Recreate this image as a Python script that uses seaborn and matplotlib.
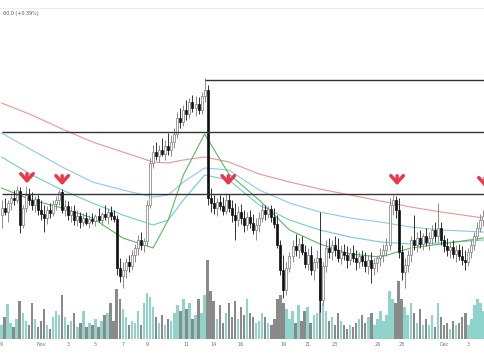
import numpy as np
import pandas as pd
import matplotlib
matplotlib.use("Agg")
import matplotlib.pyplot as plt
import seaborn as sns

# --- candle data (one entry per bar, oldest first) ---
opens = [145, 152, 148, 157, 162, 160, 169, 135, 152, 165,
         160, 155, 161, 150, 146, 142, 150, 147, 156, 160,
         168, 150, 154, 145, 149, 140, 144, 138, 142, 137,
         141, 139, 144, 140, 146, 143, 148, 144, 141, 92,
         84, 90, 98, 94, 105, 112, 120, 115, 119, 155,
         197, 208, 204, 210, 206, 214, 210, 218, 226, 242,
         238, 250, 246, 258, 252, 256, 250, 264, 270, 162,
         157, 152, 158, 154, 149, 160, 152, 145, 140, 148,
         142, 135, 143, 137, 130, 135, 142, 150, 146, 151,
         143, 136, 115, 90, 70, 92, 104, 114, 110, 116,
         108, 96, 105, 90, 98, 102, 60, 94, 112, 108,
         115, 110, 102, 108, 105, 100, 107, 102, 98, 104,
         99, 94, 100, 92, 97, 102, 105, 110, 115, 155,
         160, 150, 108, 88, 95, 105, 120, 115, 122, 116,
         124, 118, 122, 130, 124, 132, 120, 114, 110, 113,
         106, 110, 104, 100, 98, 108, 115, 124, 132, 140]
highs = [160, 162, 160, 165, 170, 174, 173, 155, 174, 172,
         168, 164, 165, 160, 155, 154, 157, 160, 164, 170,
         171, 160, 159, 154, 155, 150, 148, 147, 148, 145,
         147, 146, 152, 148, 155, 152, 154, 150, 145, 102,
         98, 102, 105, 110, 116, 125, 128, 122, 160, 202,
         215, 218, 215, 222, 220, 227, 225, 232, 248, 252,
         255, 260, 262, 265, 264, 263, 268, 282, 275, 172,
         165, 162, 165, 163, 167, 166, 160, 157, 154, 156,
         150, 148, 150, 146, 142, 148, 156, 155, 154, 155,
         152, 145, 120, 105, 98, 108, 120, 126, 122, 124,
         115, 112, 114, 102, 110, 148, 98, 120, 122, 120,
         124, 122, 115, 116, 114, 112, 115, 110, 108, 110,
         108, 105, 108, 102, 105, 112, 116, 122, 162, 165,
         164, 162, 115, 102, 110, 124, 145, 128, 130, 127,
         132, 128, 135, 138, 157, 138, 125, 122, 118, 120,
         115, 116, 114, 110, 112, 120, 128, 138, 146, 150]
lows = [132, 145, 138, 150, 155, 157, 127, 132, 148, 155,
        150, 148, 145, 140, 128, 136, 142, 144, 150, 155,
        147, 144, 140, 138, 135, 134, 132, 134, 135, 132,
        136, 134, 138, 135, 140, 136, 140, 138, 85, 78,
        72, 82, 88, 90, 98, 105, 110, 108, 114, 152,
        192, 200, 198, 204, 200, 205, 204, 212, 222, 232,
        234, 240, 242, 248, 244, 246, 246, 258, 155, 148,
        146, 144, 150, 145, 146, 148, 138, 120, 134, 136,
        128, 130, 132, 126, 120, 128, 138, 140, 142, 138,
        132, 112, 85, 62, 65, 88, 98, 104, 102, 105,
        92, 90, 85, 80, 92, 48, 55, 88, 102, 100,
        104, 98, 96, 100, 92, 95, 98, 90, 92, 94,
        88, 86, 77, 85, 88, 94, 98, 104, 110, 145,
        142, 102, 80, 72, 88, 98, 110, 108, 112, 110,
        114, 110, 116, 118, 118, 115, 108, 104, 102, 102,
        98, 100, 95, 90, 94, 102, 110, 120, 128, 134]
closes = [152, 148, 157, 162, 160, 170, 135, 152, 165, 160,
          155, 161, 150, 146, 142, 150, 147, 156, 160, 168,
          150, 154, 145, 149, 140, 144, 138, 142, 137, 141,
          139, 144, 140, 146, 143, 148, 144, 141, 92, 84,
          90, 98, 94, 105, 112, 120, 115, 119, 155, 197,
          208, 204, 210, 206, 214, 210, 218, 226, 242, 238,
          250, 246, 258, 252, 256, 250, 264, 270, 162, 157,
          152, 158, 154, 149, 160, 152, 145, 140, 148, 142,
          135, 143, 137, 130, 135, 142, 150, 146, 151, 143,
          136, 115, 90, 70, 92, 104, 114, 110, 116, 108,
          96, 105, 90, 98, 102, 60, 94, 112, 108, 115,
          110, 102, 108, 105, 100, 107, 102, 98, 104, 99,
          94, 100, 92, 97, 102, 105, 110, 115, 155, 160,
          150, 108, 88, 95, 105, 120, 115, 122, 116, 124,
          118, 122, 130, 124, 132, 120, 114, 110, 113, 106,
          110, 104, 100, 98, 108, 115, 124, 132, 140, 144]
volumes = [14, 22, 35, 16, 12, 20, 38, 26, 18, 14,
           36, 20, 12, 18, 30, 14, 10, 22, 28, 24,
           44, 22, 14, 18, 26, 12, 16, 28, 12, 16,
           14, 20, 12, 18, 24, 26, 36, 18, 50, 40,
           30, 22, 14, 18, 16, 28, 14, 36, 46, 42,
           32, 22, 16, 24, 14, 20, 18, 26, 34, 28,
           40, 30, 36, 20, 24, 40, 26, 44, 79, 48,
           38, 20, 34, 16, 26, 36, 22, 38, 20, 32,
           24, 40, 26, 22, 16, 18, 26, 22, 16, 14,
           20, 40, 44, 36, 30, 20, 28, 16, 34, 18,
           28, 32, 16, 24, 26, 66, 36, 28, 18, 22,
           14, 26, 18, 14, 10, 14, 12, 16, 20, 24,
           16, 22, 26, 14, 20, 28, 18, 24, 48, 40,
           36, 58, 40, 32, 24, 36, 26, 16, 30, 14,
           20, 14, 24, 12, 36, 22, 14, 16, 10, 18,
           14, 16, 22, 26, 14, 20, 34, 40, 36, 28]

# moving averages, read at a handful of bars
ma_bars = [0, 10, 20, 30, 40, 50, 55, 60, 67, 75, 85, 95, 105, 115, 125, 135, 145, 159]
ma_red = [257, 245, 231, 218, 208, 198, 197, 200, 203, 198, 186, 178, 171, 165, 159, 153, 148, 142]
ma_blue = [227, 210, 193, 178, 170, 163, 165, 178, 192, 190, 170, 157, 148, 142, 138, 133, 130, 128]
ma_teal = [203, 185, 170, 157, 145, 135, 140, 160, 185, 180, 155, 140, 130, 123, 118, 116, 117, 120]
ma_green = [172, 160, 152, 142, 122, 112, 140, 185, 226, 186, 160, 130, 116, 106, 103, 112, 116, 122]

# horizontal levels: (price, first bar)
level_prices = [280, 228, 166]
level_starts = [67, 0, 0]

# signal arrows: bar index, price at arrow tip
arrow_bars = [8.4, 20, 74.8, 130.5, 159.5]
arrow_tips = [174, 172, 172, 172, 170]

tick_bars = [0, 13, 22, 31, 40, 48, 61, 70, 79, 93, 101, 110, 124, 132, 146, 154]
tick_labels = ["9", "Nov", "3", "5", "7", "9", "11", "14", "16", "19", "21", "23", "26", "28", "Dec", "3"]

df = pd.DataFrame({"open": opens, "high": highs, "low": lows, "close": closes, "volume": volumes})
df["bar"] = np.arange(len(df))
df["dir"] = np.where(df["close"] >= df["open"], "up", "down")

sns.set_style("white")

fig = plt.figure(figsize=(4.85, 3.6), dpi=100)
ax_vol = fig.add_axes([0, 21 / 360, 1, 100 / 360])
ax = fig.add_axes([0, 0, 1, 1])
ax.patch.set_alpha(0)

# volume
sns.barplot(data=df, x="bar", y="volume", hue="dir", palette={"up": "#8fd4cb", "down": "#8a8a8a"},
            dodge=False, native_scale=True, width=0.8, saturation=1, linewidth=0,
            legend=False, ax=ax_vol)
ax_vol.set_xlim(-0.5, len(df) - 0.5)
ax_vol.set_ylim(0, 100)
ax_vol.set_xticks(tick_bars)
ax_vol.set_xticklabels(tick_labels, fontsize=3.5, color="#777777")
ax_vol.tick_params(axis="x", length=0, pad=2)
ax_vol.set_yticks([])
ax_vol.set_xlabel("")
ax_vol.set_ylabel("")
sns.despine(ax=ax_vol, left=True, bottom=True)

# moving averages
sns.lineplot(x=ma_bars, y=ma_red, color="#e8988f", lw=0.8, ax=ax)
sns.lineplot(x=ma_bars, y=ma_blue, color="#8ccbe8", lw=0.8, ax=ax)
sns.lineplot(x=ma_bars, y=ma_teal, color="#72cdd0", lw=0.8, ax=ax)
sns.lineplot(x=ma_bars, y=ma_green, color="#5cb85c", lw=0.8, ax=ax)

# candles
up = df[df["dir"] == "up"]
dn = df[df["dir"] == "down"]
ax.vlines(up["bar"], up["low"], up["high"], color="#7a7a7a", lw=0.6, zorder=3)
ax.vlines(dn["bar"], dn["low"], dn["high"], color="#111111", lw=0.6, zorder=3)
ax.bar(up["bar"], (up["close"] - up["open"]).clip(lower=0.8), bottom=up["open"], width=0.65,
       color="white", edgecolor="#7a7a7a", linewidth=0.5, zorder=4)
ax.bar(dn["bar"], (dn["open"] - dn["close"]).clip(lower=0.8), bottom=dn["close"], width=0.65,
       color="#111111", edgecolor="#111111", linewidth=0.5, zorder=4)

# levels
for p, s in zip(level_prices, level_starts):
    ax.hlines(p, s, len(df) + 1, color="#333333", lw=1.0, zorder=5)

# arrows
for b, t in zip(arrow_bars, arrow_tips):
    ax.annotate("", xy=(b, t), xytext=(b, t + 15),
                arrowprops=dict(arrowstyle="->,head_width=0.45,head_length=0.5", color="#e8394a", lw=2.5),
                zorder=6)

ax.axhline(352, color="#e8e8e8", lw=0.6, zorder=1)
ax.text(0.5, 347, "60.0 (+0.39%)", fontsize=3.5, color="#555555", va="center", ha="left")

ax.set_xlim(-0.5, len(df) - 0.5)
ax.set_ylim(0, 360)
ax.set_xticks([])
ax.set_yticks([])
sns.despine(ax=ax, left=True, bottom=True)

fig.savefig("out.png", dpi=100)
